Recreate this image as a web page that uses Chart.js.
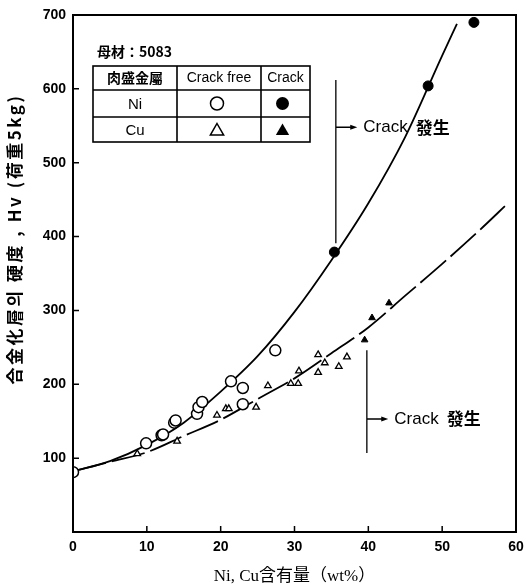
<!DOCTYPE html>
<html>
<head>
<meta charset="utf-8">
<script src="https://cdn.jsdelivr.net/npm/chart.js@4.4.1/dist/chart.umd.min.js"></script>
<style>
  html, body { margin: 0; padding: 0; background: #fff; }
  canvas { display: block; }
</style>
</head>
<body>
<canvas id="c" width="524" height="588"></canvas>
<script>
// Ni overlay: crack-free (open circles) and cracked (filled circles)
const niFreeX  = [0, 9.9, 12.0, 12.2, 13.7, 13.9, 16.8, 17.0, 17.5, 21.4, 23.0, 23.0, 27.4];
const niFreeY  = [81, 120, 131, 132, 148, 151, 160, 169, 176, 204, 195, 173, 246];
const niCrackX = [35.4, 48.1, 54.3];
const niCrackY = [379, 604, 690];

// Cu overlay: crack-free (open triangles) and cracked (filled triangles)
const cuFreeX  = [8.7, 14.1, 19.5, 20.7, 21.1, 24.8, 26.4, 29.5, 30.5, 30.6, 33.2, 33.2, 34.1, 36.0, 37.1];
const cuFreeY  = [106, 123, 158, 167, 167, 169, 198, 201, 201, 218, 240, 216, 229, 224, 237];
const cuCrackX = [39.5, 40.5, 42.8];
const cuCrackY = [260, 290, 310];

// Trend curves
const niCurveX = [0, 5, 10, 15, 20, 25, 30, 35, 40, 45, 50, 52];
const niCurveY = [82, 96, 118, 148, 190, 238, 298, 368, 445, 535, 645, 688];
const cuCurveX = [0, 5, 10, 15, 20, 25, 30, 35, 40, 45, 50, 55, 59];
const cuCurveY = [82, 95, 108, 130, 152, 180, 208, 242, 277, 320, 363, 408, 446];

// Axis ticks
const xTickValues = [0, 10, 20, 30, 40, 50, 60];
const yTickValues = [0, 100, 200, 300, 400, 500, 600, 700];

// Crack onset markers: [x, yTop, yBottom, yArrow, xArrowEnd]
const niCrackOnset = [35.6, 612, 391, 548, 38.5];
const cuCrackOnset = [39.8, 246, 107, 153, 42.7];

const pts = (xs, ys) => xs.map((x, i) => ({ x, y: ys[i] }));

const decor = {
  id: 'decor',
  afterDatasetsDraw(chart) {
    const { ctx, chartArea: a, scales: { x, y } } = chart;
    ctx.save();
    ctx.strokeStyle = '#000';
    ctx.fillStyle = '#000';

    // frame
    ctx.lineWidth = 2;
    ctx.strokeRect(a.left, a.top, a.right - a.left, a.bottom - a.top);

    // inward tick marks
    ctx.lineWidth = 1.5;
    ctx.beginPath();
    xTickValues.forEach(v => {
      const px = x.getPixelForValue(v);
      ctx.moveTo(px, a.bottom); ctx.lineTo(px, a.bottom - 6);
    });
    yTickValues.forEach(v => {
      const py = y.getPixelForValue(v);
      ctx.moveTo(a.left, py); ctx.lineTo(a.left + 6, py);
    });
    ctx.stroke();

    // crack onset annotations
    const onset = (o) => {
      const px = x.getPixelForValue(o[0]);
      const pTop = y.getPixelForValue(o[1]);
      const pBot = y.getPixelForValue(o[2]);
      const pA = y.getPixelForValue(o[3]);
      const pEnd = x.getPixelForValue(o[4]);
      ctx.lineWidth = 1.3;
      ctx.beginPath();
      ctx.moveTo(px, pTop); ctx.lineTo(px, pBot);
      ctx.moveTo(px, pA); ctx.lineTo(pEnd - 4, pA);
      ctx.stroke();
      ctx.beginPath();
      ctx.moveTo(pEnd, pA); ctx.lineTo(pEnd - 7, pA - 2.5); ctx.lineTo(pEnd - 7, pA + 2.5);
      ctx.closePath(); ctx.fill();
      ctx.textBaseline = 'middle';
      ctx.textAlign = 'left';
      ctx.font = '17px "Liberation Sans", sans-serif';
      ctx.fillText('Crack', pEnd + 6, pA);
      const w = ctx.measureText('Crack').width;
      ctx.font = 'bold 17px "Noto Sans CJK KR", sans-serif';
      ctx.fillText('發生', pEnd + 6 + w + 8, pA);
    };
    onset(niCrackOnset);
    onset(cuCrackOnset);

    // legend table
    ctx.textBaseline = 'middle';
    ctx.textAlign = 'left';
    ctx.font = 'bold 14px "Noto Sans CJK KR", sans-serif';
    ctx.fillText('母材：5083', 97, 52);

    const L = 93, C1 = 177, C2 = 261, R = 310, T = 66, R1 = 90, R2 = 117, B = 142;
    ctx.lineWidth = 1.6;
    ctx.strokeRect(L, T, R - L, B - T);
    ctx.beginPath();
    ctx.moveTo(L, R1); ctx.lineTo(R, R1);
    ctx.moveTo(L, R2); ctx.lineTo(R, R2);
    ctx.moveTo(C1, T); ctx.lineTo(C1, B);
    ctx.moveTo(C2, T); ctx.lineTo(C2, B);
    ctx.stroke();

    ctx.textAlign = 'center';
    ctx.font = 'bold 14px "Noto Sans CJK KR", sans-serif';
    ctx.fillText('肉盛金屬', (L + C1) / 2, (T + R1) / 2);
    ctx.font = '14px "Liberation Sans", sans-serif';
    ctx.fillText('Crack free', (C1 + C2) / 2, (T + R1) / 2);
    ctx.fillText('Crack', (C2 + R) / 2, (T + R1) / 2);
    ctx.font = '15px "Liberation Sans", sans-serif';
    ctx.fillText('Ni', (L + C1) / 2, (R1 + R2) / 2 + 1);
    ctx.fillText('Cu', (L + C1) / 2, (R2 + B) / 2 + 1);

    const cx1 = (C1 + C2) / 2 - 2, cx2 = (C2 + R) / 2 - 3;
    const ry1 = (R1 + R2) / 2, ry2 = (R2 + B) / 2;
    ctx.lineWidth = 1.5;
    ctx.beginPath(); ctx.arc(cx1, ry1, 6.5, 0, Math.PI * 2); ctx.stroke();
    ctx.beginPath(); ctx.arc(cx2, ry1, 6.5, 0, Math.PI * 2); ctx.fill();
    const tri = (cx, cy, s) => {
      ctx.beginPath();
      ctx.moveTo(cx, cy - s);
      ctx.lineTo(cx + s * 0.95, cy + s * 0.65);
      ctx.lineTo(cx - s * 0.95, cy + s * 0.65);
      ctx.closePath();
    };
    tri(cx1, ry2 + 1, 7); ctx.stroke();
    tri(cx2, ry2 + 1, 7); ctx.fill();

    // axis titles
    ctx.textAlign = 'center';
    ctx.textBaseline = 'middle';
    ctx.font = '17px "Liberation Serif", "Noto Sans CJK KR", serif';
    ctx.fillText('Ni, Cu含有量（wt%）', (a.left + a.right) / 2, 577);

    ctx.translate(15, 239);
    ctx.rotate(-Math.PI / 2);
    ctx.font = 'bold 17px "Noto Sans CJK KR", sans-serif';
    ctx.letterSpacing = '2.5px';
    ctx.fillText('合金化層의 硬度 , Hv (荷重5kg)', 0, 0);
    ctx.restore();
  }
};

const tickFont = { family: '"Liberation Sans", sans-serif', size: 14, weight: 'bold' };

new Chart(document.getElementById('c'), {
  type: 'scatter',
  data: {
    datasets: [
      { data: pts(niFreeX, niFreeY), pointStyle: 'circle', pointRadius: 5.5, borderWidth: 1.5,
        borderColor: '#000', backgroundColor: '#fff', order: 0 },
      { data: pts(niCrackX, niCrackY), pointStyle: 'circle', pointRadius: 5, borderWidth: 1,
        borderColor: '#000', backgroundColor: '#000', order: 0 },
      { data: pts(cuFreeX, cuFreeY), pointStyle: 'triangle', pointRadius: 3.8, borderWidth: 1.3,
        borderColor: '#000', backgroundColor: '#fff', order: 0 },
      { data: pts(cuCrackX, cuCrackY), pointStyle: 'triangle', pointRadius: 3.8, borderWidth: 1,
        borderColor: '#000', backgroundColor: '#000', order: 0 },
      { type: 'line', data: pts(niCurveX, niCurveY), showLine: true, pointRadius: 0,
        borderColor: '#000', borderWidth: 1.8, cubicInterpolationMode: 'monotone', order: 5 },
      { type: 'line', data: pts(cuCurveX, cuCurveY), showLine: true, pointRadius: 0,
        borderColor: '#000', borderWidth: 1.8, borderDash: [34, 6], cubicInterpolationMode: 'monotone', order: 5 }
    ]
  },
  options: {
    responsive: false,
    animation: false,
    events: [],
    layout: { padding: { top: 15, right: 8, left: 0, bottom: 0 } },
    plugins: { legend: { display: false }, tooltip: { enabled: false } },
    scales: {
      x: {
        type: 'linear', min: 0, max: 60,
        afterBuildTicks: s => { s.ticks = xTickValues.map(v => ({ value: v })); },
        ticks: { font: tickFont, color: '#000', padding: 7 },
        grid: { display: false, drawTicks: false }, border: { display: false },
        afterFit: s => { s.height = 56; s.paddingLeft = 0; s.paddingRight = 0; }
      },
      y: {
        type: 'linear', min: 0, max: 700,
        afterBuildTicks: s => { s.ticks = yTickValues.map(v => ({ value: v })); },
        ticks: { font: tickFont, color: '#000', padding: 7, callback: v => v === 0 ? '' : v },
        grid: { display: false, drawTicks: false }, border: { display: false },
        afterFit: s => { s.width = 73; s.paddingTop = 0; s.paddingBottom = 0; }
      }
    }
  },
  plugins: [decor]
});
</script>
</body>
</html>
